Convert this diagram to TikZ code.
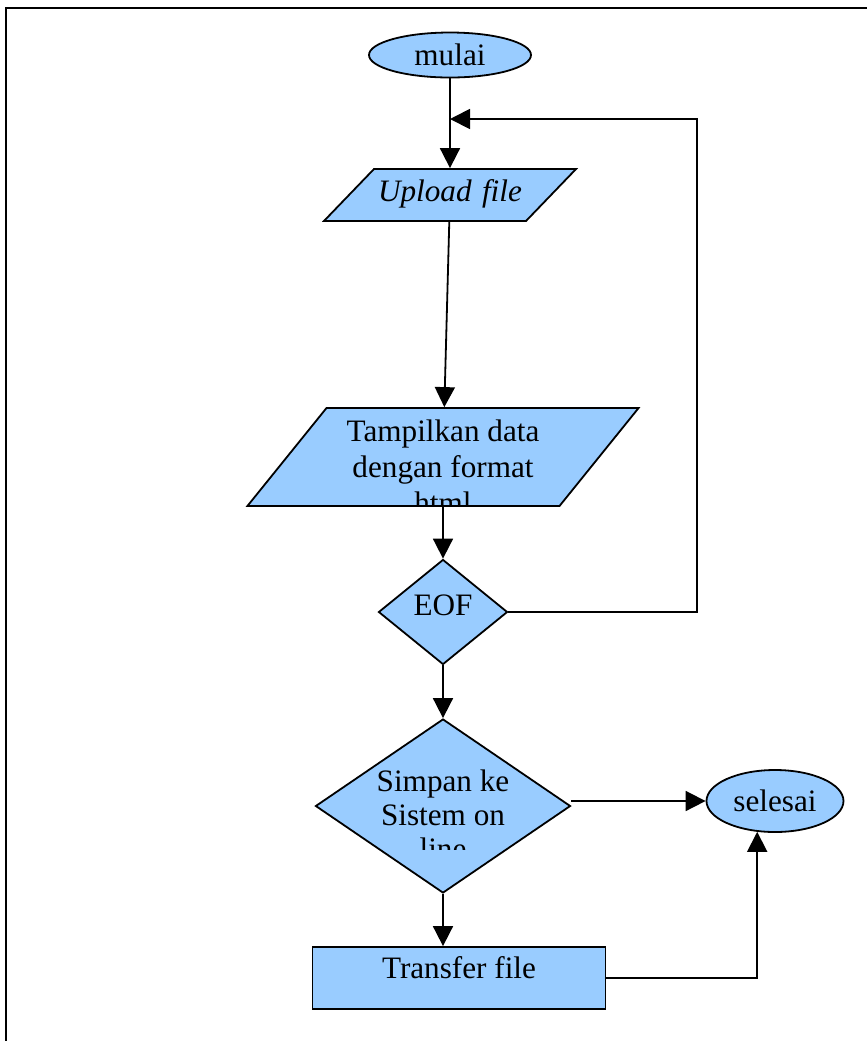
\documentclass[tikz,border=0pt]{standalone}
\usepackage{fontspec}
\setmainfont{Liberation Serif}
\usetikzlibrary{shapes,arrows.meta,positioning,calc}
\definecolor{boxblue}{RGB}{153,204,255}

\begin{document}
\begin{tikzpicture}[x=0.5pt, y=-0.5pt, auto, >={Triangle[length=10pt,width=10pt]}, font=\fontsize{15.6pt}{18pt}\selectfont]
        % Styles
        \tikzstyle{terminal} = [ellipse, draw, fill=boxblue, inner sep=0pt, line width=0.9pt]
        \tikzstyle{io} = [trapezium, draw, fill=boxblue, inner sep=0pt, align=center, line width=0.9pt]
        \tikzstyle{decision} = [diamond, draw, fill=boxblue, inner sep=0pt, line width=0.9pt]
        \tikzstyle{block} = [rectangle, draw, fill=boxblue, line width=0.9pt]
        \tikzstyle{cliptext} = [rectangle, draw=none, fill=none, inner sep=0pt, minimum size=0pt, text width=, text height=, text depth=, align=center, path picture={}]
        \tikzstyle{line} = [draw, ->, line width=0.9pt]

        \useasboundingbox (0,0) rectangle (867,1041);
        \draw [line width=1.2pt] (867,8) -- (6,8) -- (6,1041);

        % Nodes
        \node [terminal, minimum width=81pt, minimum height=22.5pt] (mulai) at (450,55) {mulai};
        \node [io, below of=mulai, node distance=70pt, trapezium left angle=46.1, trapezium right angle=133.9, text width=76pt, text height=16pt, text depth=10pt] (upload) {\itshape Upload file};
        \node [io, below of=upload, node distance=131pt, xshift=-3.5pt, trapezium left angle=51.1, trapezium right angle=128.9, text width=116.5pt, text height=49pt, text depth=0pt,
               path picture={\node [cliptext] at ([yshift=-5pt]path picture bounding box.center) {Tampilkan data\\dengan format\\html};}] (tampil) {};
        \node [decision, below of=tampil, node distance=77.5pt, minimum width=64.5pt, minimum height=52.5pt, text depth=7pt] (eof) {EOF};
        \node [decision, below of=eof, node distance=97pt, minimum width=127.5pt, minimum height=87pt,
               path picture={\clip (path picture bounding box.north west) rectangle ([yshift=-21.5pt]path picture bounding box.east);
                             \node [cliptext, font=\fontsize{15.6pt}{17pt}\selectfont] at ([yshift=-4.5pt]path picture bounding box.center) {Simpan ke\\Sistem on\\line};}] (simpan) {\phantom{X}};
        \node [block, below of=simpan, node distance=86pt, xshift=8pt, minimum width=146.5pt, minimum height=31pt, text height=11pt, text depth=11pt] (transfer) {Transfer file};
        \node [terminal, right of=simpan, node distance=166pt, yshift=2.5pt, minimum width=68.5pt, minimum height=31pt] (selesai) {selesai};

        \coordinate (looptop) at (697,119);
        \coordinate (loopin) at (upload |- looptop);

        % Edges
        \path [line] (mulai) -- (upload);
        \path [line] (upload) -- (tampil);
        \path [line] (tampil) -- (eof);
        \path [line] (eof.east) -- (eof.east -| looptop) -- (looptop) -- (loopin);
        \path [line] (eof) -- (simpan);
        \path [line] (simpan.east |- selesai.west) -- (selesai.west);
        \path [line] (simpan.south) -- (simpan.south |- transfer.north);
        \path [line] (transfer.east) -| (selesai.240);

    \end{tikzpicture}
\end{document}
